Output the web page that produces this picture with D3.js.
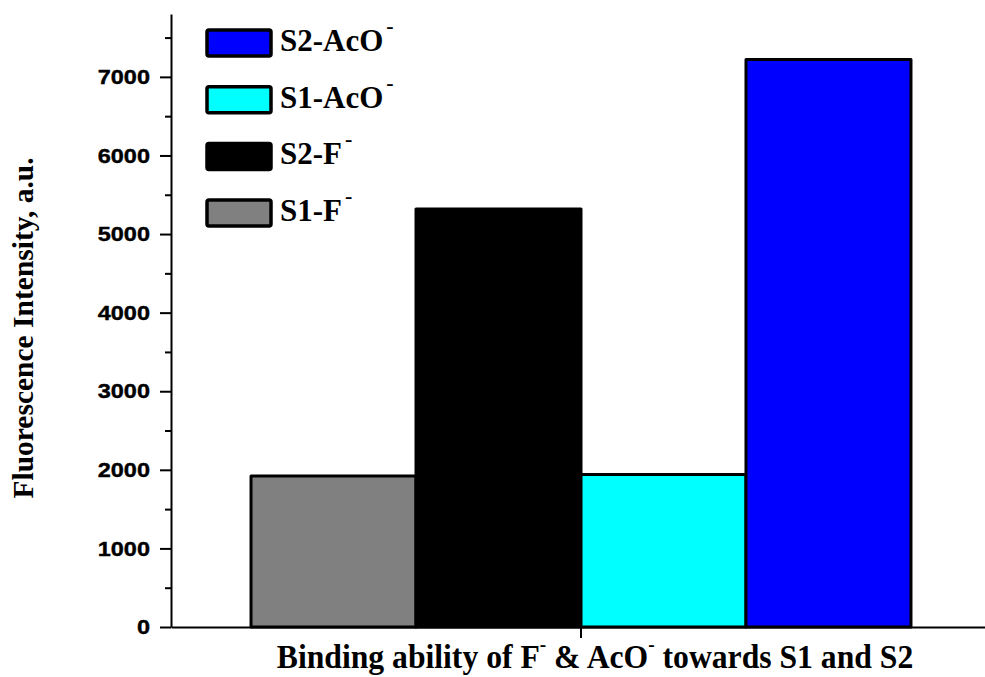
<!DOCTYPE html>
<html><head><meta charset="utf-8">
<script src="https://cdn.jsdelivr.net/npm/d3@7"></script>
<style>body{margin:0;background:#fff}</style>
</head><body>
<svg id="c" width="985" height="677"></svg>
<script>
const groups = ["Binding"];
const series = ["S1-F", "S2-F", "S1-AcO", "S2-AcO"];
const values = [1920, 5320, 1940, 7220];
const colors = ["#808080", "#000000", "#00ffff", "#0000ff"];
const legendOrder = ["S2-AcO", "S1-AcO", "S2-F", "S1-F"];
const yTicks = [0, 1000, 2000, 3000, 4000, 5000, 6000, 7000];
const yMinor = [500, 1500, 2500, 3500, 4500, 5500, 6500, 7500];

const svg = d3.select("#c");
const m = {left: 171, top: 14, bottom: 627};
const y = d3.scaleLinear().domain([0, 7800]).range([m.bottom, m.top]);
const xg = d3.scaleBand().domain(groups).range([m.left, 991]);
const xs = d3.scaleBand().domain(series).range([xg(groups[0]), xg(groups[0]) + xg.bandwidth()]).paddingOuter(0.485).paddingInner(0);

// bars
svg.append("g").selectAll("rect").data(series).join("rect")
  .attr("x", d => xs(d)).attr("width", xs.bandwidth())
  .attr("y", (d,i) => y(values[i])).attr("height", (d,i) => y(0) - y(values[i]))
  .attr("fill", (d,i) => colors[i]).attr("stroke", "#000").attr("stroke-width", 3)
  .attr("stroke-linejoin", "round");

// y axis
const sx = 1.12;
const ya = svg.append("g").attr("transform", `translate(${m.left},0)`)
  .call(d3.axisLeft(y).tickValues(yTicks).tickSize(11).tickSizeOuter(0).tickPadding(8).tickFormat(d3.format("d")));
ya.select(".domain").attr("stroke-width", 2);
ya.selectAll(".tick line").attr("stroke-width", 2);
ya.selectAll("text").attr("font-family", "Liberation Sans, Arial").attr("font-weight", "bold").attr("font-size", 21).attr("fill", "#000")
  .attr("stroke", "#000").attr("stroke-width", 0.4)
  .attr("x", -21 / sx).attr("transform", `scale(${sx},1)`);
const ym = svg.append("g").attr("transform", `translate(${m.left},0)`)
  .call(d3.axisLeft(y).tickValues(yMinor).tickSize(6).tickSizeOuter(0).tickFormat(""));
ym.select(".domain").remove();
ym.selectAll(".tick line").attr("stroke-width", 2);

// x axis
const xa = svg.append("g").attr("transform", `translate(0,${m.bottom})`)
  .call(d3.axisBottom(xg).tickSize(11).tickSizeOuter(0).tickFormat(""));
xa.select(".domain").attr("stroke-width", 2);
xa.selectAll(".tick line").attr("stroke-width", 2);

// y title
svg.append("text").attr("transform", "translate(33,328) rotate(-90)")
  .attr("text-anchor", "middle").attr("font-family", "Liberation Serif, Times New Roman")
  .attr("font-weight", "bold").attr("font-size", 29.5).text("Fluorescence Intensity, a.u.");

// x title
const xt = svg.append("text").attr("transform", "translate(595,668) scale(0.96,1)").attr("text-anchor", "middle")
  .attr("font-family", "Liberation Serif, Times New Roman").attr("font-weight", "bold").attr("font-size", 33);
xt.append("tspan").text("Binding ability of F");
xt.append("tspan").attr("dy", -17).attr("font-size", 20).text("-");
xt.append("tspan").attr("dy", 17).text(" & AcO");
xt.append("tspan").attr("dy", -17).attr("font-size", 20).text("-");
xt.append("tspan").attr("dy", 17).text(" towards S1 and S2");

// legend
const lg = svg.append("g").selectAll("g").data(legendOrder).join("g")
  .attr("transform", (d,i) => `translate(207,${30 + i*56.7})`);
lg.append("rect").attr("width", 64).attr("height", 26).attr("rx", 2)
  .attr("fill", d => colors[series.indexOf(d)]).attr("stroke", "#000").attr("stroke-width", 3.5);
const lt = lg.append("text").attr("x", 73).attr("y", 21)
  .attr("font-family", "Liberation Serif, Times New Roman").attr("font-weight", "bold").attr("font-size", 31);
lt.append("tspan").text(d => d);
lt.append("tspan").attr("dx", 3).attr("dy", -18).attr("font-size", 22).text("-");
</script>
</body></html>
